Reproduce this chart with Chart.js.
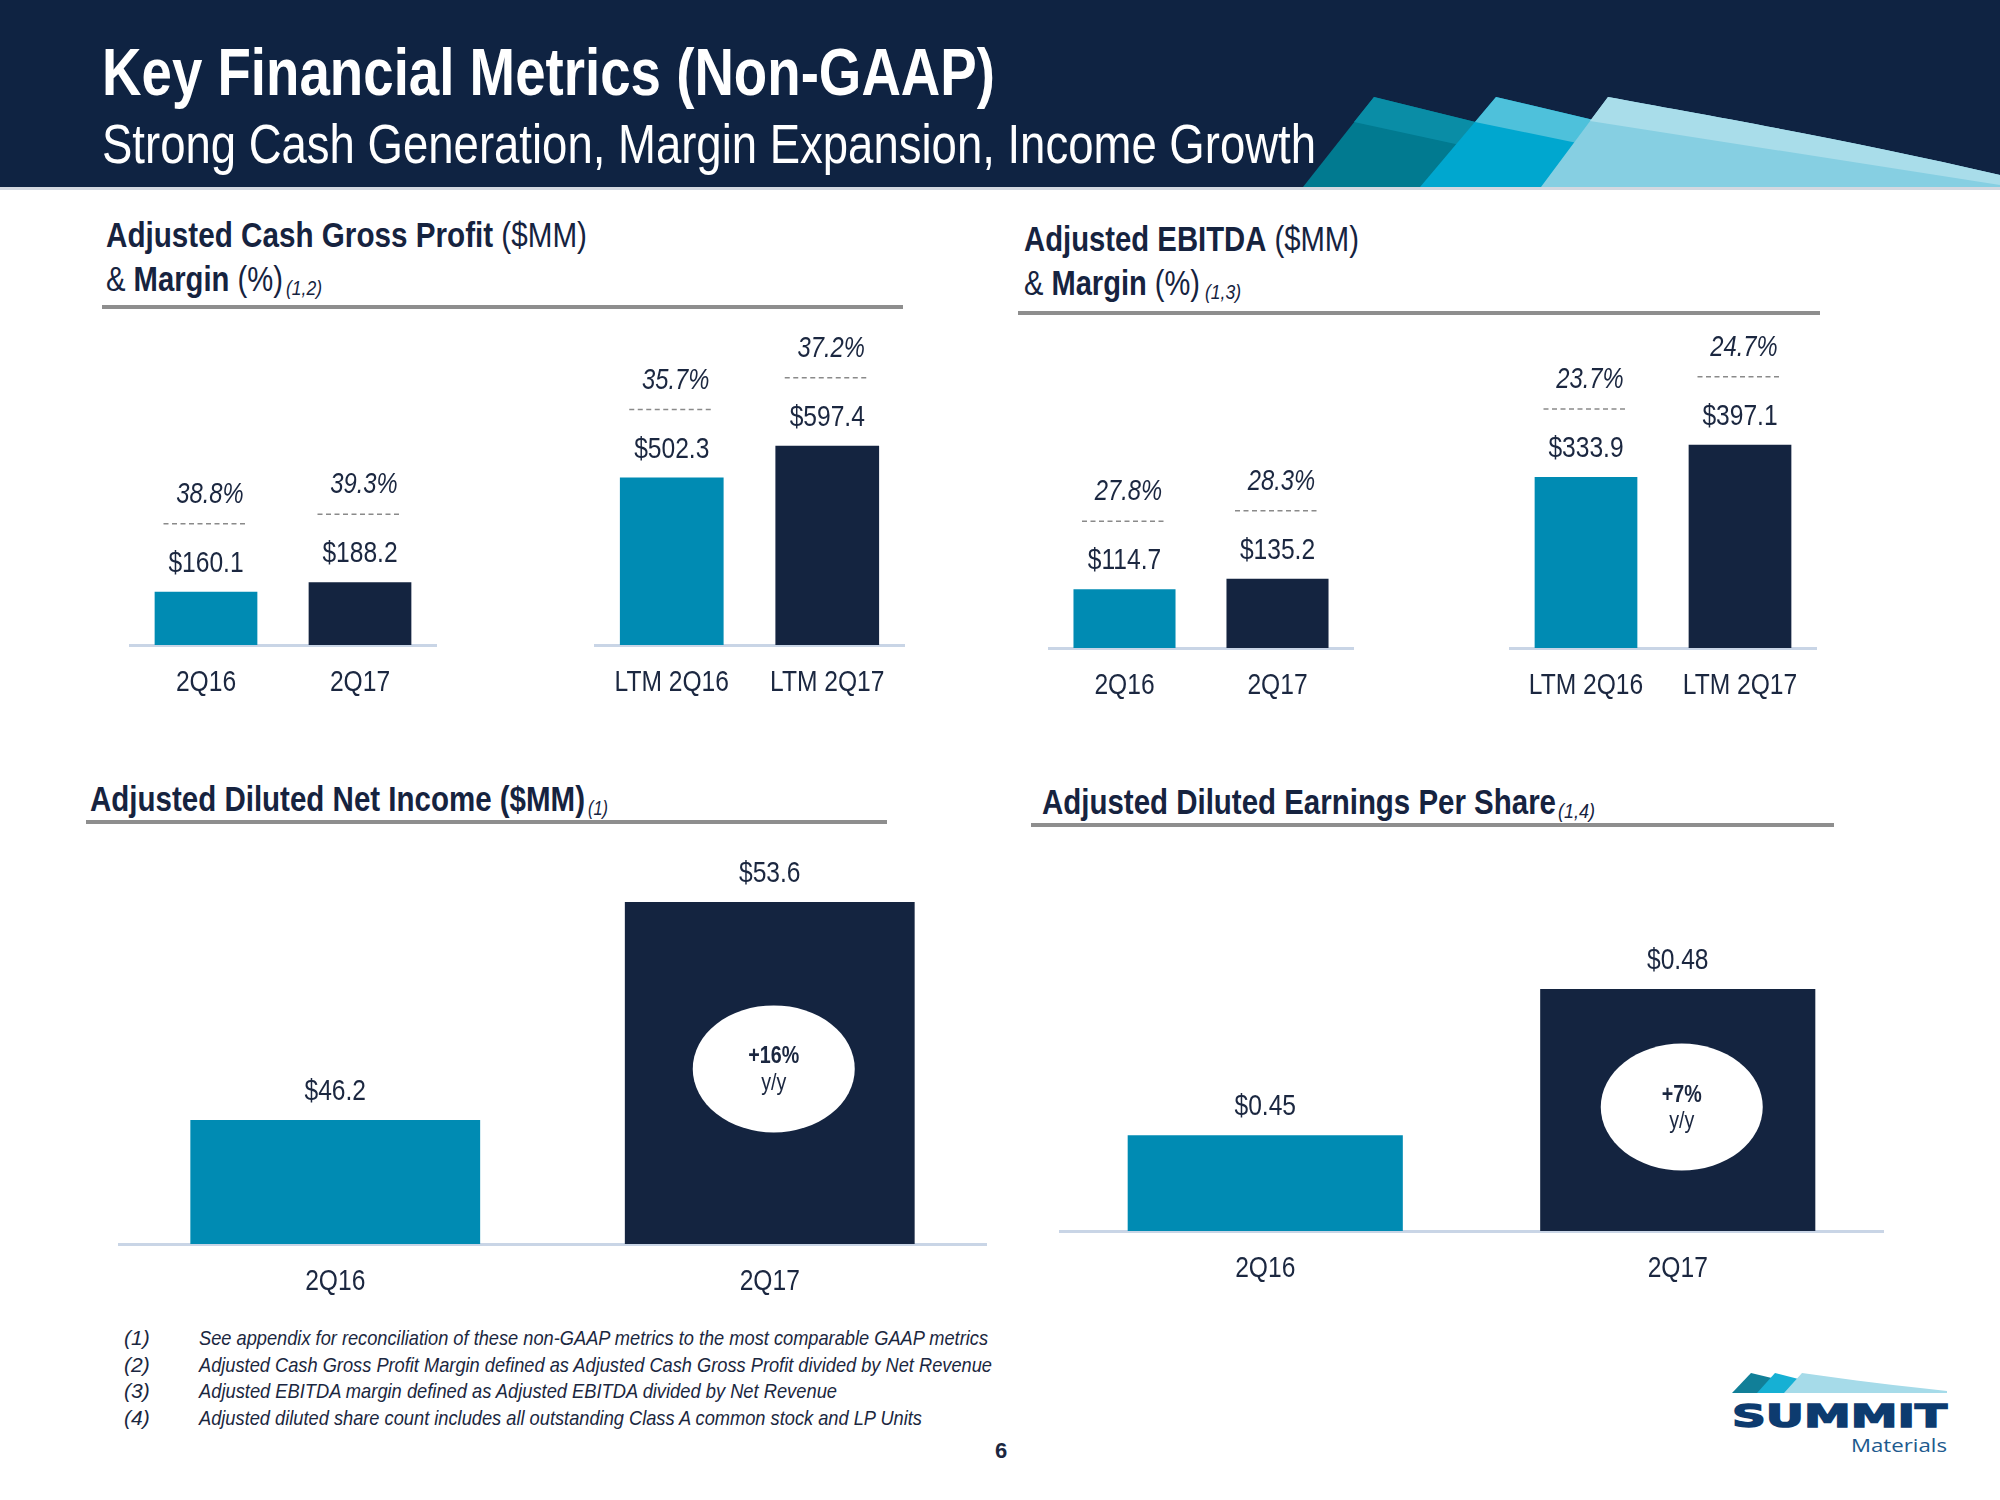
<!DOCTYPE html>
<html><head><meta charset="utf-8">
<script src="https://cdn.jsdelivr.net/npm/chart.js@4.4.1/dist/chart.umd.min.js"></script>
<style>
html,body{margin:0;padding:0;background:#fff;}
#slide{position:relative;width:2000px;height:1500px;overflow:hidden;background:#fff;}
#slide svg{position:absolute;left:0;top:0;}
.cv{position:absolute;}
.n{font-family:'Liberation Sans Narrow','Arial Narrow','Liberation Sans',Arial,sans-serif;}
</style></head><body>
<div id="slide">
<svg width="2000" height="1500" viewBox="0 0 2000 1500" xmlns="http://www.w3.org/2000/svg">
  <rect x="0" y="0" width="2000" height="187" fill="#0f2342"/>
  <rect x="0" y="187" width="2000" height="3" fill="#d3d8e0"/>
  <polygon points="1303,187 1374,97 1520,133 1520,187" fill="#017a90"/>
  <polygon points="1374,97 1520,133 1520,158 1354,122" fill="#0a8da6"/>
  <polygon points="1420,187 1496,97 1640,131 1640,187" fill="#00a7cf"/>
  <polygon points="1496,97 1640,131 1640,156 1475,122" fill="#4ec1db"/>
  <path d="M1541,187 L1608,97 C1700,114 1850,140 2000,175 L2000,187 Z" fill="#86cfe2"/>
  <path d="M1608,97 C1700,114 1850,140 2000,175 L2000,185 L1590,121 Z" fill="#a9ddea"/>

  <g class="n" fill="#ffffff">
    <text x="102" y="95" font-weight="bold" font-size="67" textLength="893" lengthAdjust="spacingAndGlyphs">Key Financial Metrics (Non-GAAP)</text>
    <text x="102" y="163" font-size="56" textLength="1214" lengthAdjust="spacingAndGlyphs">Strong Cash Generation, Margin Expansion, Income Growth</text>
  </g>

  <g class="n" fill="#16233f" font-size="35">
    <text x="106" y="247" textLength="481" lengthAdjust="spacingAndGlyphs"><tspan font-weight="bold">Adjusted Cash Gross Profit</tspan><tspan> ($MM)</tspan></text>
    <text x="106" y="291" textLength="177" lengthAdjust="spacingAndGlyphs"><tspan>&amp; </tspan><tspan font-weight="bold">Margin</tspan><tspan> (%)</tspan></text>
    <text x="286" y="295" font-size="21" font-style="italic" textLength="36" lengthAdjust="spacingAndGlyphs">(1,2)</text>

    <text x="1024" y="251" textLength="335" lengthAdjust="spacingAndGlyphs"><tspan font-weight="bold">Adjusted EBITDA</tspan><tspan> ($MM)</tspan></text>
    <text x="1024" y="295" textLength="176" lengthAdjust="spacingAndGlyphs"><tspan>&amp; </tspan><tspan font-weight="bold">Margin</tspan><tspan> (%)</tspan></text>
    <text x="1205" y="299" font-size="21" font-style="italic" textLength="36" lengthAdjust="spacingAndGlyphs">(1,3)</text>

    <text x="90" y="811" font-weight="bold" textLength="495" lengthAdjust="spacingAndGlyphs">Adjusted Diluted Net Income ($MM)</text>
    <text x="588" y="815" font-size="21" font-style="italic" textLength="20" lengthAdjust="spacingAndGlyphs">(1)</text>

    <text x="1042" y="814" font-weight="bold" textLength="514" lengthAdjust="spacingAndGlyphs">Adjusted Diluted Earnings Per Share</text>
    <text x="1558" y="818" font-size="21" font-style="italic" textLength="37" lengthAdjust="spacingAndGlyphs">(1,4)</text>
  </g>

  <rect x="102" y="305" width="801" height="4" fill="#8e8e8e"/>
  <rect x="1018" y="311" width="802" height="4" fill="#8e8e8e"/>
  <rect x="86" y="820" width="801" height="4" fill="#8e8e8e"/>
  <rect x="1031" y="823" width="803" height="4" fill="#8e8e8e"/>

  <g class="n" fill="#1b2740" font-size="21" font-style="italic">
    <text x="124" y="1345">(1)</text>
    <text x="124" y="1372">(2)</text>
    <text x="124" y="1398">(3)</text>
    <text x="124" y="1425">(4)</text>
    <text x="199" y="1345" textLength="789" lengthAdjust="spacingAndGlyphs">See appendix for reconciliation of these non-GAAP metrics to the most comparable GAAP metrics</text>
    <text x="199" y="1372" textLength="793" lengthAdjust="spacingAndGlyphs">Adjusted Cash Gross Profit Margin defined as Adjusted Cash Gross Profit divided by Net Revenue</text>
    <text x="199" y="1398" textLength="638" lengthAdjust="spacingAndGlyphs">Adjusted EBITDA margin defined as Adjusted EBITDA divided by Net Revenue</text>
    <text x="199" y="1425" textLength="723" lengthAdjust="spacingAndGlyphs">Adjusted diluted share count includes all outstanding Class A common stock and LP Units</text>
  </g>
  <text class="n" x="1001" y="1458" text-anchor="middle" font-weight="bold" font-size="22" fill="#1b2740">6</text>

  <!-- logo -->
  <polygon points="1732,1393 1751,1373 1792,1383 1792,1393" fill="#117f98"/>
  <polygon points="1757,1393 1775,1373 1818,1384 1818,1393" fill="#16b0d4"/>
  <path d="M1784,1393 L1802,1373 C1850,1380 1900,1386 1947,1391 L1947,1393 Z" fill="#a6dbe9"/>
  <text x="1732" y="1427" font-family="'DejaVu Sans',sans-serif" font-weight="bold" font-size="32" fill="#0d3b6f" stroke="#0d3b6f" stroke-width="1.5" textLength="215" lengthAdjust="spacingAndGlyphs">SUMMIT</text>
  <text x="1851" y="1452" font-family="'Open Sans',sans-serif" font-size="18" fill="#1d5a8e" textLength="96" lengthAdjust="spacingAndGlyphs">Materials</text>
</svg>
<canvas id="c1a" class="cv"></canvas>
<canvas id="c1b" class="cv"></canvas>
<canvas id="c2a" class="cv"></canvas>
<canvas id="c2b" class="cv"></canvas>
<canvas id="c3" class="cv"></canvas>
<canvas id="c4" class="cv"></canvas>
</div>
<script>
// ---------- data ----------
const quarterCategories = ['2Q16', '2Q17'];
const ltmCategories = ['LTM 2Q16', 'LTM 2Q17'];
const cashGrossProfitQuarter = [160.1, 188.2];
const cashGrossMarginQuarter = [38.8, 39.3];
const cashGrossProfitLTM = [502.3, 597.4];
const cashGrossMarginLTM = [35.7, 37.2];
const ebitdaQuarter = [114.7, 135.2];
const ebitdaMarginQuarter = [27.8, 28.3];
const ebitdaLTM = [333.9, 397.1];
const ebitdaMarginLTM = [23.7, 24.7];
const netIncomeValues = [46.2, 53.6];
const netIncomeGrowth = '+16%';
const epsValues = [0.45, 0.48];
const epsGrowth = '+7%';

// ---------- style ----------
const TEAL = '#008bb3', NAVY = '#142440', INK = '#1b2740', AXIS = '#c9d5e6';
function hasFont(name) {
  const c = document.createElement('canvas').getContext('2d');
  const s = 'abcdefghijklmnopqrstuvwxyz0123456789$%';
  c.font = '40px monospace'; const w0 = c.measureText(s).width;
  c.font = '40px "' + name + '", monospace'; return c.measureText(s).width !== w0;
}
let NARROW = '"Liberation Sans", Arial, sans-serif', SQUEEZE = 0.82;
if (hasFont('Liberation Sans Narrow')) { NARROW = '"Liberation Sans Narrow"'; SQUEEZE = 1; }
else if (hasFont('Arial Narrow')) { NARROW = '"Arial Narrow"'; SQUEEZE = 1; }

function narrowText(ctx, text, x, y, font) {
  ctx.save();
  ctx.font = font; ctx.textAlign = 'center'; ctx.textBaseline = 'alphabetic';
  ctx.translate(x, y); ctx.scale(SQUEEZE, 1);
  ctx.fillText(text, 0, 0);
  ctx.restore();
}

const chartLabels = {};
const labelPlugin = {
  id: 'barLabels',
  afterDraw(chart) {
    const o = chartLabels[chart.canvas.id];
    const ctx = chart.ctx;
    const meta = chart.getDatasetMeta(0);
    const data = chart.data.datasets[0].data;
    const xs = chart.scales.x, ys = chart.scales.y;
    const bottom = chart.chartArea.bottom;
    ctx.save();
    ctx.fillStyle = INK;
    // category labels from the x scale
    xs.ticks.forEach((t, i) => {
      narrowText(ctx, xs.getLabelForValue(t.value), xs.getPixelForTick(i), xs.top + 46, '30px ' + NARROW);
    });
    for (let i = 0; i < data.length; i++) {
      const bar = meta.data[i];
      const x = bar.x;
      const y = ys.getPixelForValue(data[i]);
      ctx.fillStyle = INK;
      narrowText(ctx, '$' + data[i].toFixed(o.decimals), x, y - 20, '30px ' + NARROW);
      if (o.margins) {
        const dy = y - 68;
        ctx.strokeStyle = '#8a8a8a'; ctx.lineWidth = 1.5; ctx.setLineDash([5, 3.5]);
        ctx.beginPath(); ctx.moveTo(x - 42.5, dy); ctx.lineTo(x + 42.5, dy); ctx.stroke();
        ctx.setLineDash([]);
        narrowText(ctx, o.margins[i].toFixed(1) + '%', x + 4, dy - 21, 'italic 29px ' + NARROW);
      }
      if (o.growth && i === data.length - 1) {
        const cx = x + 4, cy = y + 0.488 * (bottom - y);
        ctx.save();
        ctx.fillStyle = '#ffffff';
        ctx.beginPath();
        ctx.ellipse(cx, cy, 81, 63.5, 0, 0, 2 * Math.PI);
        ctx.closePath();
        ctx.fill();
        ctx.restore();
        ctx.fillStyle = INK;
        narrowText(ctx, o.growth, cx, cy - 5.5, 'bold 24px ' + NARROW);
        narrowText(ctx, 'y/y', cx, cy + 21, '24px ' + NARROW);
      }
    }
    ctx.restore();
  }
};

function barChart(id, box, labels, values, yMin, yMax, lab) {
  chartLabels[id] = lab;
  const cv = document.getElementById(id);
  cv.width = box.w; cv.height = box.h;
  cv.style.left = box.x + 'px'; cv.style.top = box.y + 'px';
  cv.style.width = box.w + 'px'; cv.style.height = box.h + 'px';
  return new Chart(cv, {
    type: 'bar',
    data: { labels: labels, datasets: [{ data: values, backgroundColor: [TEAL, NAVY], borderWidth: 0, barPercentage: 0.667, categoryPercentage: 1 }] },
    options: {
      responsive: false, animation: false, devicePixelRatio: 1,
      layout: { padding: { top: box.padTop, left: 0, right: 0, bottom: 0 } },
      plugins: { legend: { display: false }, tooltip: { enabled: false } },
      scales: {
        x: {
          grid: { display: false, drawTicks: false },
          border: { display: true, color: AXIS, width: 3 },
          ticks: { display: false, maxRotation: 0, autoSkip: false },
          afterFit: (s) => { s.height = box.axisH; }
        },
        y: { display: false, min: yMin, max: yMax }
      }
    },
    plugins: [labelPlugin]
  });
}

barChart('c1a', { x: 129, y: 315, w: 308, h: 400, padTop: 30, axisH: 70 }, quarterCategories, cashGrossProfitQuarter, 0, 900, { decimals: 1, margins: cashGrossMarginQuarter });
barChart('c1b', { x: 594, y: 315, w: 311, h: 400, padTop: 30, axisH: 70 }, ltmCategories, cashGrossProfitLTM, 0, 900, { decimals: 1, margins: cashGrossMarginLTM });
barChart('c2a', { x: 1048, y: 318, w: 306, h: 400, padTop: 30, axisH: 70 }, quarterCategories, ebitdaQuarter, 0, 586, { decimals: 1, margins: ebitdaMarginQuarter });
barChart('c2b', { x: 1509, y: 318, w: 308, h: 400, padTop: 30, axisH: 70 }, ltmCategories, ebitdaLTM, 0, 586, { decimals: 1, margins: ebitdaMarginLTM });
barChart('c3', { x: 118, y: 845, w: 869, h: 469, padTop: 0, axisH: 70 }, quarterCategories, netIncomeValues, 41.99, 55.534, { decimals: 1, growth: netIncomeGrowth });
barChart('c4', { x: 1059, y: 845, w: 825, h: 456, padTop: 0, axisH: 70 }, quarterCategories, epsValues, 0.4304, 0.5095, { decimals: 2, growth: epsGrowth });
</script>
</body></html>
